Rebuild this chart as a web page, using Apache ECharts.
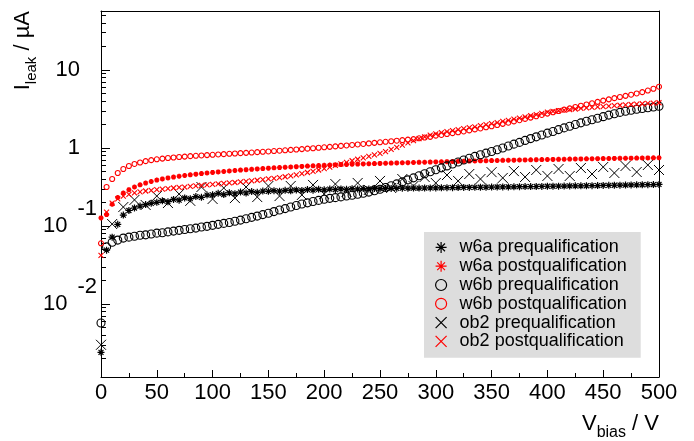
<!DOCTYPE html>
<html>
<head>
<meta charset="utf-8">
<script src="https://cdn.jsdelivr.net/npm/echarts@6/dist/echarts.min.js"></script>
<style>
  html, body { margin: 0; padding: 0; background: #ffffff; }
  #chart { width: 694px; height: 441px; }
</style>
</head>
<body>
<div id="chart"></div>
<script>
// Bias voltage steps (V)
const biasSteps5 = [
  0, 5, 10, 15, 20, 25, 30, 35, 40, 45,
  50, 55, 60, 65, 70, 75, 80, 85, 90, 95,
  100, 105, 110, 115, 120, 125, 130, 135, 140, 145,
  150, 155, 160, 165, 170, 175, 180, 185, 190, 195,
  200, 205, 210, 215, 220, 225, 230, 235, 240, 245,
  250, 255, 260, 265, 270, 275, 280, 285, 290, 295,
  300, 305, 310, 315, 320, 325, 330, 335, 340, 345,
  350, 355, 360, 365, 370, 375, 380, 385, 390, 395,
  400, 405, 410, 415, 420, 425, 430, 435, 440, 445,
  450, 455, 460, 465, 470, 475, 480, 485, 490, 495,
  500
];
const biasSteps10 = [
  0, 10, 20, 30, 40, 50, 60, 70, 80, 90,
  100, 110, 120, 130, 140, 150, 160, 170, 180, 190,
  200, 210, 220, 230, 240, 250, 260, 270, 280, 290,
  300, 310, 320, 330, 340, 350, 360, 370, 380, 390,
  400, 410, 420, 430, 440, 450, 460, 470, 480, 490,
  500
];

// Leakage current (uA) per sensor, measured before and after qualification
const w6aPre = [
  0.0024, 0.049, 0.072, 0.105, 0.138, 0.158, 0.170, 0.180, 0.188, 0.195,
  0.201, 0.210, 0.205, 0.219, 0.214, 0.229, 0.224, 0.238, 0.233, 0.249,
  0.251, 0.262, 0.253, 0.266, 0.259, 0.272, 0.265, 0.276, 0.270, 0.280,
  0.278, 0.284, 0.279, 0.287, 0.283, 0.290, 0.285, 0.293, 0.288, 0.295,
  0.291, 0.297, 0.293, 0.299, 0.295, 0.301, 0.297, 0.302, 0.299, 0.303,
  0.302, 0.303, 0.303, 0.304, 0.305, 0.305, 0.306, 0.306, 0.307, 0.308,
  0.308, 0.309, 0.310, 0.310, 0.311, 0.312, 0.312, 0.313, 0.314, 0.314,
  0.315, 0.316, 0.317, 0.317, 0.318, 0.319, 0.320, 0.320, 0.321, 0.322,
  0.323, 0.323, 0.324, 0.325, 0.326, 0.327, 0.327, 0.328, 0.329, 0.330,
  0.331, 0.332, 0.333, 0.334, 0.335, 0.336, 0.337, 0.338, 0.339, 0.340,
  0.341
];
const w6aPost = [
  0.127, 0.140, 0.190, 0.232, 0.265, 0.292, 0.316, 0.337, 0.355, 0.372,
  0.388, 0.401, 0.413, 0.424, 0.434, 0.444, 0.453, 0.462, 0.470, 0.478,
  0.486, 0.493, 0.500, 0.507, 0.514, 0.521, 0.527, 0.533, 0.539, 0.545,
  0.551, 0.556, 0.561, 0.566, 0.571, 0.576, 0.581, 0.586, 0.590, 0.595,
  0.600, 0.604, 0.608, 0.612, 0.615, 0.619, 0.622, 0.625, 0.628, 0.631,
  0.634, 0.637, 0.640, 0.643, 0.646, 0.649, 0.652, 0.655, 0.657, 0.660,
  0.663, 0.666, 0.668, 0.671, 0.674, 0.676, 0.679, 0.681, 0.684, 0.686,
  0.689, 0.691, 0.694, 0.696, 0.698, 0.701, 0.703, 0.705, 0.708, 0.710,
  0.712, 0.714, 0.716, 0.718, 0.720, 0.722, 0.724, 0.726, 0.728, 0.730,
  0.732, 0.733, 0.735, 0.737, 0.739, 0.740, 0.742, 0.744, 0.745, 0.747,
  0.749
];
const w6bPre = [
  0.0057, 0.054, 0.062, 0.066, 0.070, 0.072, 0.074, 0.076, 0.077, 0.079,
  0.081, 0.082, 0.084, 0.086, 0.088, 0.090, 0.092, 0.094, 0.097, 0.099,
  0.102, 0.105, 0.108, 0.111, 0.115, 0.119, 0.124, 0.129, 0.134, 0.140,
  0.146, 0.153, 0.160, 0.167, 0.175, 0.183, 0.191, 0.198, 0.206, 0.213,
  0.220, 0.226, 0.231, 0.236, 0.242, 0.248, 0.255, 0.263, 0.272, 0.283,
  0.296, 0.311, 0.328, 0.347, 0.368, 0.390, 0.414, 0.440, 0.467, 0.495,
  0.525, 0.556, 0.589, 0.624, 0.660, 0.700, 0.740, 0.780, 0.820, 0.860,
  0.900, 0.950, 1.00, 1.06, 1.12, 1.18, 1.25, 1.32, 1.39, 1.47,
  1.55, 1.63, 1.72, 1.81, 1.90, 2.00, 2.10, 2.20, 2.30, 2.41,
  2.52, 2.64, 2.75, 2.86, 2.96, 3.05, 3.13, 3.21, 3.28, 3.35,
  3.42
];
const w6bPost = [
  0.060, 0.316, 0.400, 0.478, 0.538, 0.588, 0.624, 0.652, 0.678, 0.698,
  0.716, 0.731, 0.744, 0.755, 0.766, 0.776, 0.786, 0.794, 0.802, 0.810,
  0.818, 0.826, 0.834, 0.842, 0.850, 0.858, 0.866, 0.874, 0.884, 0.893,
  0.903, 0.913, 0.923, 0.934, 0.945, 0.956, 0.968, 0.980, 0.993, 1.006,
  1.020, 1.034, 1.048, 1.063, 1.078, 1.094, 1.110, 1.127, 1.145, 1.163,
  1.182, 1.20, 1.22, 1.24, 1.26, 1.28, 1.30, 1.33, 1.36, 1.39,
  1.44, 1.47, 1.51, 1.55, 1.59, 1.63, 1.68, 1.73, 1.78, 1.84,
  1.90, 1.97, 2.04, 2.11, 2.19, 2.27, 2.36, 2.45, 2.55, 2.65,
  2.76, 2.87, 2.98, 3.10, 3.22, 3.35, 3.48, 3.61, 3.75, 3.90,
  4.05, 4.20, 4.35, 4.50, 4.66, 4.82, 5.00, 5.20, 5.45, 5.75,
  6.10
];
const ob2Pre = [
  0.0030, 0.106, 0.175, 0.216, 0.186, 0.242, 0.197, 0.257, 0.210, 0.316,
  0.222, 0.307, 0.228, 0.316, 0.235, 0.326, 0.242, 0.326, 0.250, 0.336,
  0.257, 0.345, 0.273, 0.356, 0.290, 0.378, 0.307, 0.400, 0.326, 0.425,
  0.356, 0.450, 0.378, 0.464, 0.400, 0.490, 0.413, 0.505, 0.425, 0.522,
  0.438, 0.538, 0.438, 0.554, 0.464, 0.570, 0.478, 0.588, 0.492, 0.605,
  0.522
];
const ob2Post = [
  0.042, 0.151, 0.197, 0.222, 0.242, 0.255, 0.266, 0.274, 0.281, 0.287,
  0.292, 0.297, 0.302, 0.307, 0.312, 0.316, 0.321, 0.326, 0.331, 0.336,
  0.341, 0.346, 0.351, 0.356, 0.361, 0.367, 0.373, 0.379, 0.386, 0.393,
  0.401, 0.409, 0.418, 0.428, 0.440, 0.453, 0.468, 0.485, 0.503, 0.522,
  0.545, 0.570, 0.597, 0.626, 0.656, 0.686, 0.717, 0.749, 0.782, 0.818,
  0.855, 0.900, 0.960, 1.02, 1.09, 1.16, 1.24, 1.32, 1.39, 1.46,
  1.52, 1.57, 1.62, 1.67, 1.72, 1.77, 1.82, 1.87, 1.93, 1.99,
  2.05, 2.12, 2.19, 2.26, 2.34, 2.42, 2.50, 2.59, 2.68, 2.78,
  2.88, 2.94, 3.00, 3.06, 3.11, 3.16, 3.21, 3.26, 3.31, 3.36,
  3.40, 3.45, 3.49, 3.53, 3.57, 3.61, 3.65, 3.69, 3.72, 3.76,
  3.80
];

const seriesNames = [
  'w6a prequalification', 'w6a postqualification',
  'w6b prequalification', 'w6b postqualification',
  'ob2 prequalification', 'ob2 postqualification'
];

// Axis ticks and labels
const xTicks = [0, 50, 100, 150, 200, 250, 300, 350, 400, 450, 500];
const yMajorTicks = [0.01, 0.1, 1, 10];
const yMajorLabels = ['{b|10}{e|-2}', '{b|10}{e|-1}', '{p|1}', '{p|10}'];
const yMinorTicks = [
  0.002, 0.003, 0.004, 0.005, 0.006, 0.007, 0.008, 0.009,
  0.02, 0.03, 0.04, 0.05, 0.06, 0.07, 0.08, 0.09,
  0.2, 0.3, 0.4, 0.5, 0.6, 0.7, 0.8, 0.9,
  2, 3, 4, 5, 6, 7, 8, 9,
  20, 30, 40, 50
];
const yRange = [0.00116, 57];
const xRange = [0, 500];

const FONT = '"Liberation Sans", Arial, Helvetica, sans-serif';
const ASTERISK = 'path://M0,-10L0,10M-10,0L10,0M-7.07,-7.07L7.07,7.07M-7.07,7.07L7.07,-7.07';
const CROSS = 'path://M-10,-10L10,10M-10,10L10,-10';

function pairs(xs, ys) {
  return xs.map((x, i) => [x, ys[i]]);
}

function markerSeries(name, xs, ys, symbol, size, color, width) {
  return {
    name: name,
    type: 'scatter',
    data: pairs(xs, ys),
    symbol: symbol,
    symbolSize: size,
    xAxisIndex: 0,
    yAxisIndex: 0,
    itemStyle: { color: 'transparent', borderColor: color, borderWidth: width, opacity: 1 },
    emphasis: { disabled: true },
    clip: true
  };
}

const chart = echarts.init(document.getElementById('chart'), null, { renderer: 'canvas' });

const frameLine = { show: true, lineStyle: { color: '#000000', width: 1 } };

chart.setOption({
  animation: false,
  backgroundColor: '#ffffff',
  textStyle: { fontFamily: FONT },
  grid: {
    left: 101, right: 35, top: 11, bottom: 64,
    containLabel: false, outerBoundsMode: 'none'
  },
  xAxis: [
    {
      type: 'value', min: xRange[0], max: xRange[1], interval: 50,
      position: 'bottom',
      axisLine: frameLine,
      axisTick: { show: true, inside: true, length: 7, lineStyle: { color: '#000' } },
      minorTick: { show: true, splitNumber: 2, length: 4, lineStyle: { color: '#000' } },
      axisLabel: {
        customValues: xTicks,
        margin: 5, fontSize: 22, color: '#000', fontFamily: FONT
      },
      splitLine: { show: false }
    },
    {
      type: 'value', min: xRange[0], max: xRange[1], position: 'top',
      axisLine: frameLine, axisTick: { show: false }, axisLabel: { show: false },
      splitLine: { show: false }
    }
  ],
  yAxis: [
    {
      type: 'log', logBase: 10, min: yRange[0], max: yRange[1], position: 'left',
      axisLine: frameLine,
      axisTick: { show: true, inside: true, length: 9, customValues: yMajorTicks, lineStyle: { color: '#000' } },
      minorTick: { show: false },
      axisLabel: {
        customValues: yMajorTicks,
        margin: 4,
        color: '#000',
        formatter: function (value) {
          for (let i = 0; i < yMajorTicks.length; i++) {
            if (Math.abs(Math.log10(value) - Math.log10(yMajorTicks[i])) < 1e-6) {
              return yMajorLabels[i];
            }
          }
          return '';
        },
        rich: {
          b: { fontSize: 22, fontFamily: FONT, color: '#000' },
          e: { fontSize: 22, fontFamily: FONT, color: '#000', padding: [0, 0, 34, 10] },
          p: { fontSize: 22, fontFamily: FONT, color: '#000', padding: [0, 17, 0, 0] }
        }
      },
      splitLine: { show: false }
    },
    {
      type: 'log', logBase: 10, min: yRange[0], max: yRange[1], position: 'left',
      axisLine: { show: false },
      axisTick: { show: true, inside: true, length: 5, customValues: yMinorTicks, lineStyle: { color: '#000' } },
      axisLabel: { show: false },
      splitLine: { show: false }
    },
    {
      type: 'log', logBase: 10, min: yRange[0], max: yRange[1], position: 'right',
      axisLine: frameLine, axisTick: { show: false }, axisLabel: { show: false },
      splitLine: { show: false }
    }
  ],
  legend: {
    orient: 'vertical',
    left: 424, top: 232,
    backgroundColor: '#dddddd',
    borderWidth: 0,
    padding: [6, 14, 7, 11],
    itemGap: 0,
    itemWidth: 11, itemHeight: 11,
    selectedMode: false,
    itemStyle: { borderWidth: 1.2 },
    textStyle: { fontSize: 18, fontFamily: FONT, color: '#000', lineHeight: 18.8, padding: [0, 0, 0, 8] },
    data: seriesNames
  },
  series: [
    markerSeries(seriesNames[0], biasSteps5, w6aPre, ASTERISK, 7, '#000000', 1.2),
    markerSeries(seriesNames[1], biasSteps5, w6aPost, ASTERISK, 5, '#ff0000', 1.6),
    markerSeries(seriesNames[2], biasSteps5, w6bPre, 'circle', 8, '#000000', 1.1),
    markerSeries(seriesNames[3], biasSteps5, w6bPost, 'circle', 5, '#ff0000', 1.1),
    markerSeries(seriesNames[4], biasSteps10, ob2Pre, CROSS, 10, '#000000', 1),
    markerSeries(seriesNames[5], biasSteps5, ob2Post, CROSS, 5, '#ff0000', 1.1)
  ],
  graphic: [
    {
      type: 'text',
      x: 22.5, y: 11,
      rotation: Math.PI / 2,
      style: {
        text: '{m|I}{s|leak}{m| / µA}',
        align: 'right', verticalAlign: 'middle',
        fill: '#000',
        rich: {
          m: { fontSize: 22, fontFamily: FONT, fill: '#000', color: '#000' },
          s: { fontSize: 15, fontFamily: FONT, fill: '#000', color: '#000', padding: [18, 0, 0, 0] }
        }
      }
    },
    {
      type: 'text',
      x: 659, y: 423.5,
      style: {
        text: '{m|V}{s|bias}{m| / V}',
        align: 'right', verticalAlign: 'middle',
        fill: '#000',
        rich: {
          m: { fontSize: 22, fontFamily: FONT, fill: '#000', color: '#000' },
          s: { fontSize: 16, fontFamily: FONT, fill: '#000', color: '#000', padding: [18, 0, 0, 0] }
        }
      }
    }
  ]
});
</script>
</body>
</html>
